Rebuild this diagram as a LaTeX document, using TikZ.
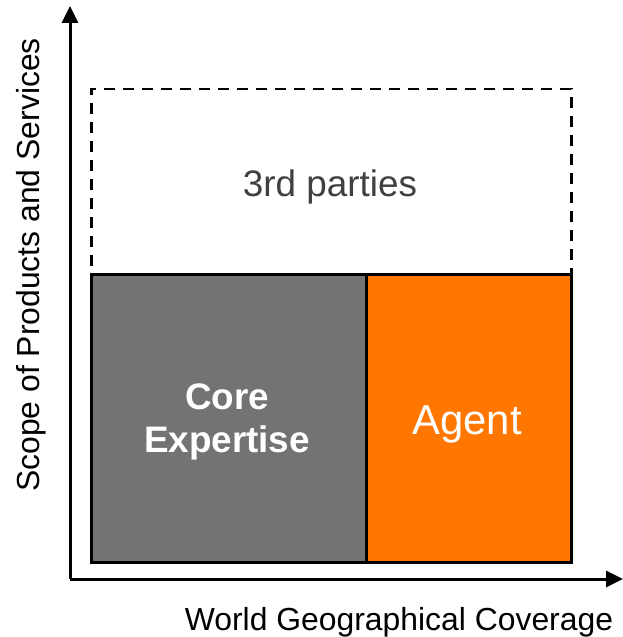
\documentclass[tikz,border=0pt]{standalone}
\usepackage{fontspec}
\setmainfont{Liberation Sans}
\usetikzlibrary{arrows.meta}

\definecolor{coregray}{HTML}{737373}
\definecolor{agentorange}{HTML}{FF7700}
\definecolor{labelgray}{HTML}{404040}

\tikzset{
  axis/.style={line width=3bp,-{Triangle[length=17bp,width=16bp]}},
  block/.style={draw=black,line width=3bp,inner sep=0pt,anchor=north west},
  axislabel/.style={font=\fontsize{32}{38}\selectfont}
}

\begin{document}
\begin{tikzpicture}[x=1bp,y=-1bp]
    \useasboundingbox (0,0) rectangle (623,637);
    % axes
    \coordinate (origin) at (70,579);
    \coordinate (ytip) at (70,6);
    \coordinate (xtip) at (623,579);
    \draw[axis] (origin) -- (ytip);
    \draw[axis] (origin) -- (xtip);
    % boxes
    \node[block,dashed,dash pattern=on 11bp off 8bp,line width=2.5bp,
      minimum width=480bp,minimum height=185bp] (parties) at (90,88) {};
    \node[block,fill=coregray,minimum width=275bp,minimum height=288bp] (core) at (90,273) {};
    \node[block,fill=agentorange,minimum width=205bp,minimum height=288bp] (agent) at (365,273) {};
    % texts
    \node[text=labelgray,font=\fontsize{37}{44}\selectfont] (partiestext) at (330,187) {3rd parties};
    \node[text=white,font=\bfseries\fontsize{37}{44}\selectfont,align=center] (coretext) at (227,422) {Core\\Expertise};
    \node[text=white,font=\fontsize{42}{50}\selectfont] (agenttext) at (467,424) {Agent};
    \node[axislabel] (xlabel) at (399,622) {World Geographical Coverage};
    \node[axislabel,rotate=90] (ylabel) at (31,265) {Scope of Products and Services};
\end{tikzpicture}
\end{document}
